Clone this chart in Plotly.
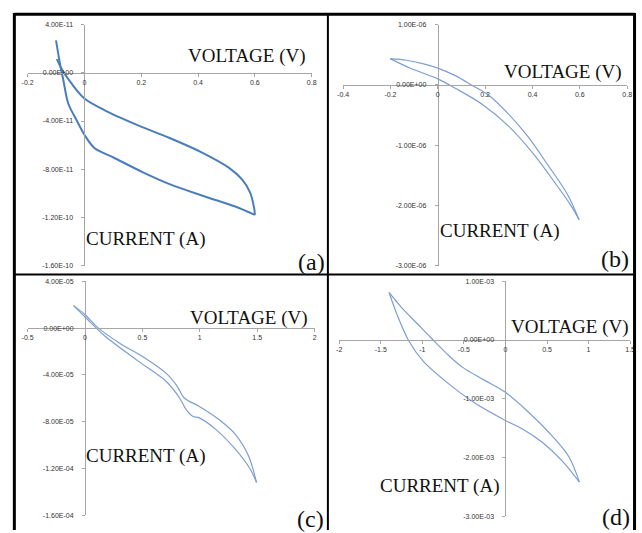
import plotly.graph_objects as go

W, H = 642, 533

# ---- (a) sweep data: voltage (V), current (A) ----
va_fwd = [-0.100, -0.093, -0.086, -0.074, -0.057, -0.028, 0.000, 0.035, 0.104, 0.208,
          0.300, 0.416, 0.531, 0.600]
ia_fwd = [2.7e-11, 1.7e-11, 0.74e-11, -0.63e-11, -2.54e-11, -3.91e-11, -5.14e-11, -6.23e-11,
          -7.05e-11, -8.28e-11, -9.24e-11, -10.2e-11, -11.1e-11, -11.8e-11]
va_rev = [0.600, 0.598, 0.583, 0.554, 0.508, 0.416, 0.300, 0.185, 0.070, 0.000, -0.045,
          -0.080, -0.097]
ia_rev = [-11.8e-11, -11.3e-11, -9.92e-11, -8.83e-11, -7.87e-11, -6.64e-11, -5.41e-11,
          -4.32e-11, -3.09e-11, -2.13e-11, -0.9e-11, 0.33e-11, 1.15e-11]

# ---- (b) ----
vb_fwd = [0.597, 0.548, 0.465, 0.381, 0.298, 0.215, 0.146, 0.076, 0.000, -0.060, -0.132,
          -0.201]
ib_fwd = [-2.24e-6, -1.82e-6, -1.33e-6, -0.86e-6, -0.48e-6, -0.17e-6, -0.01e-6, 0.15e-6,
          0.28e-6, 0.35e-6, 0.41e-6, 0.437e-6]
vb_rev = [-0.201, -0.118, 0.000, 0.076, 0.187, 0.298, 0.409, 0.492, 0.562, 0.597]
ib_rev = [0.437e-6, 0.28e-6, 0.10e-6, -0.06e-6, -0.32e-6, -0.68e-6, -1.17e-6, -1.61e-6,
          -2.00e-6, -2.24e-6]

# ---- (c) ----
vc_fwd = [-0.10, 0.00, 0.112, 0.312, 0.511, 0.710, 0.796, 0.867, 0.996, 1.167, 1.309,
          1.423, 1.494]
ic_fwd = [1.92e-5, 1.16e-5, 0.04e-5, -1.36e-5, -2.49e-5, -3.89e-5, -4.87e-5, -6.0e-5,
          -6.7e-5, -7.82e-5, -9.08e-5, -10.9e-5, -13.2e-5]
vc_rev = [1.494, 1.437, 1.309, 1.138, 0.996, 0.938, 0.881, 0.825, 0.710, 0.454, 0.170,
          0.000, -0.10]
ic_rev = [-13.2e-5, -12.03e-5, -10.35e-5, -8.66e-5, -7.68e-5, -7.54e-5, -6.98e-5, -6.0e-5,
          -4.59e-5, -2.76e-5, -0.66e-5, 0.95e-5, 1.92e-5]

# ---- (d) ----
vd_fwd = [-1.40, -1.26, -1.02, -0.87, -0.67, -0.51, -0.27, 0.00, 0.21, 0.52, 0.76, 0.89]
id_fwd = [0.81e-3, 0.57e-3, 0.22e-3, 0.0, -0.28e-3, -0.47e-3, -0.67e-3, -0.89e-3,
          -1.14e-3, -1.57e-3, -1.98e-3, -2.42e-3]
vd_rev = [0.89, 0.69, 0.45, 0.21, 0.00, -0.35, -0.67, -0.99, -1.16, -1.30, -1.40]
id_rev = [-2.42e-3, -2.07e-3, -1.75e-3, -1.52e-3, -1.37e-3, -1.09e-3, -0.76e-3, -0.36e-3,
          -0.02e-3, 0.42e-3, 0.81e-3]

# ---- tick values / labels ----
xa_ticks = [-0.2, 0, 0.2, 0.4, 0.6, 0.8]
xa_text = ["-0.2", "0", "0.2", "0.4", "0.6", "0.8"]
ya_ticks = [4e-11, 0, -4e-11, -8e-11, -1.2e-10, -1.6e-10]
ya_text = ["4.00E-11", "0.00E+00", "-4.00E-11", "-8.00E-11", "-1.20E-10", "-1.60E-10"]

xb_ticks = [-0.4, -0.2, 0, 0.2, 0.4, 0.6, 0.8]
xb_text = ["-0.4", "-0.2", "0", "0.2", "0.4", "0.6", "0.8"]
yb_ticks = [1e-6, 0, -1e-6, -2e-6, -3e-6]
yb_text = ["1.00E-06", "0.00E+00", "-1.00E-06", "-2.00E-06", "-3.00E-06"]

xc_ticks = [-0.5, 0, 0.5, 1, 1.5, 2]
xc_text = ["-0.5", "0", "0.5", "1", "1.5", "2"]
yc_ticks = [4e-5, 0, -4e-5, -8e-5, -1.2e-4, -1.6e-4]
yc_text = ["4.00E-05", "0.00E+00", "-4.00E-05", "-8.00E-05", "-1.20E-04", "-1.60E-04"]

xd_ticks = [-2, -1.5, -1, -0.5, 0, 0.5, 1, 1.5]
xd_text = ["-2", "-1.5", "-1", "-0.5", "0", "0.5", "1", "1.5"]
yd_ticks = [1e-3, 0, -1e-3, -2e-3, -3e-3]
yd_text = ["1.00E-03", "0.00E+00", "-1.00E-03", "-2.00E-03", "-3.00E-03"]

x_title = "VOLTAGE (V)"
y_title = "CURRENT (A)"


def px(x):
    return x / W


def py(y):
    return 1 - y / H


# panel layout: (x range, x pixel span, y range, y pixel span top->bottom)
panels = [
    dict(xr=[-0.2, 0.8], xp=(22, 311), yr=[-1.6e-10, 4e-11], yp=(21, 265),
         xt=(xa_ticks, xa_text), yt=(ya_ticks, ya_text),
         sweeps=[(va_fwd, ia_fwd), (va_rev, ia_rev)], color="#4A7EBB", lw=2.0,
         vpos=(245, 53), cpos=(142, 238), tag="(a)", tpos=(311, 261)),
    dict(xr=[-0.4, 0.8], xp=(343, 632), yr=[-3e-6, 1e-6], yp=(21, 265),
         xt=(xb_ticks, xb_text), yt=(yb_ticks, yb_text),
         sweeps=[(vb_fwd, ib_fwd), (vb_rev, ib_rev)], color="#7C9ED2", lw=1.2,
         vpos=(567, 69), cpos=(502, 230), tag="(b)", tpos=(620, 258)),
    dict(xr=[-0.5, 2], xp=(22, 314), yr=[-1.6e-4, 4e-5], yp=(281, 518),
         xt=(xc_ticks, xc_text), yt=(yc_ticks, yc_text),
         sweeps=[(vc_fwd, ic_fwd), (vc_rev, ic_rev)], color="#7C9ED2", lw=1.2,
         vpos=(247, 318), cpos=(142, 458), tag="(c)", tpos=(310, 522)),
    dict(xr=[-2, 1.5], xp=(339, 635), yr=[-3e-3, 1e-3], yp=(281, 519),
         xt=(xd_ticks, xd_text), yt=(yd_ticks, yd_text),
         sweeps=[(vd_fwd, id_fwd), (vd_rev, id_rev)], color="#7C9ED2", lw=1.2,
         vpos=(574, 327), cpos=(441, 488), tag="(d)", tpos=(621, 520)),
]

fig = go.Figure()
annotations = []
tick_font = dict(family="Liberation Sans", size=7, color="#333333")
axis_grey = "#A6A6A6"

for k, p in enumerate(panels, start=1):
    xn = "x" if k == 1 else f"x{k}"
    yn = "y" if k == 1 else f"y{k}"
    for v, i in p["sweeps"]:
        fig.add_trace(go.Scatter(x=v, y=i, mode="lines", xaxis=xn, yaxis=yn,
                                 line=dict(color=p["color"], width=p["lw"],
                                           shape="spline", smoothing=0.9),
                                 hoverinfo="skip", showlegend=False))
    xd0, xd1 = px(p["xp"][0]), px(p["xp"][1])
    yd0, yd1 = py(p["yp"][1]), py(p["yp"][0])
    # axes cross at the origin
    ypos = yd0 + (0 - p["yr"][0]) / (p["yr"][1] - p["yr"][0]) * (yd1 - yd0)
    xpos = xd0 + (0 - p["xr"][0]) / (p["xr"][1] - p["xr"][0]) * (xd1 - xd0)
    xkey = "xaxis" if k == 1 else f"xaxis{k}"
    ykey = "yaxis" if k == 1 else f"yaxis{k}"
    fig.update_layout({
        xkey: dict(domain=[xd0, xd1], range=p["xr"], anchor="free", position=ypos,
                   showline=True, linecolor=axis_grey, linewidth=1, ticks="outside",
                   ticklen=3, tickcolor=axis_grey, tickvals=p["xt"][0],
                   ticktext=p["xt"][1], tickfont=tick_font, showgrid=False,
                   zeroline=False, fixedrange=True),
        ykey: dict(domain=[yd0, yd1], range=p["yr"], anchor="free", position=xpos,
                   showline=True, linecolor=axis_grey, linewidth=1, ticks="outside",
                   ticklen=3, tickcolor=axis_grey, tickvals=p["yt"][0],
                   ticktext=p["yt"][1], tickfont=tick_font, showgrid=False,
                   zeroline=False, fixedrange=True, ticklabelstandoff=7),
    })
    for txt, pos, size in [(x_title, p["vpos"], 19), (y_title, p["cpos"], 19),
                           (p["tag"], p["tpos"], 24)]:
        annotations.append(dict(text=txt, x=px(pos[0]), y=py(pos[1]), xref="paper",
                                yref="paper", xanchor="center", yanchor="middle",
                                showarrow=False,
                                font=dict(family="Liberation Serif", size=size,
                                          color="#111111")))

# table-style frame around the four panels
frame = [
    (8.5, 10.5, 640, 10.5, 3),     # top
    (8.5, 9, 8.5, 533, 3),         # left
    (639.5, 9, 639.5, 533, 3),     # right
    (327.5, 10, 327.5, 533, 2),    # middle vertical
    (8, 274, 640, 274, 2),         # middle horizontal
]
shapes = [dict(type="line", xref="paper", yref="paper", x0=px(a), y0=py(b), x1=px(c),
               y1=py(d), line=dict(color="#000000", width=w)) for a, b, c, d, w in frame]

fig.update_layout(width=W, height=H, margin=dict(l=0, r=0, t=0, b=0),
                  paper_bgcolor="white", plot_bgcolor="white", showlegend=False,
                  annotations=annotations, shapes=shapes)

fig.write_html("out.html")
